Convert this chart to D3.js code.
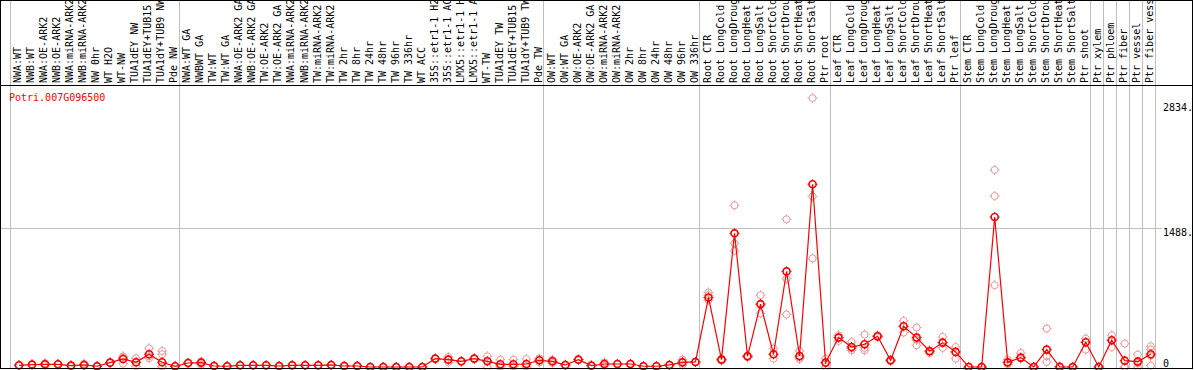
<!DOCTYPE html>
<html>
<head>
<meta charset="utf-8">
<script src="https://cdn.jsdelivr.net/npm/d3@7"></script>
<style>
body { margin: 0; background: #fff; }
text { font-family: "DejaVu Sans Mono", monospace; font-size: 10px; }
</style>
</head>
<body>
<div id="chart"></div>
<script>
var geneName = "Potri.007G096500";

var samples = [
	"NWA:WT", "NWB:WT", "NWA:OE-ARK2", "NWB:OE-ARK2", "NWA:miRNA-ARK2", "NWB:miRNA-ARK2", "NW 0hr", "WT H2O", "WT-NW", "TUA1dEY NW", "TUA1dEY+TUB15 NW", "TUA1dY+TUB9 NW", "Pde NW",
	"NWA:WT GA", "NWBWT GA", "TW:WT", "TW:WT GA", "NWA:OE-ARK2 GA", "NWB:OE-ARK2 GA", "TW:OE-ARK2", "TW:OE-ARK2 GA", "NWA:miRNA-ARK2", "NWB:miRNA-ARK2", "TW:miRNA-ARK2", "TW:miRNA-ARK2",
	"TW 2hr", "TW 8hr", "TW 24hr", "TW 48hr", "TW 96hr", "TW 336hr", "WT ACC", "35S::etr1-1 H2O", "35S::etr1-1 ACC", "LMX5::etr1-1 H2O", "LMX5::etr1-1 ACC", "WT-TW", "TUA1dEY TW", "TUA1dEY+TUB15 TW", "TUA1dY+TUB9 TW", "Pde TW",
	"OW:WT", "OW:WT GA", "OW:OE-ARK2", "OW:OE-ARK2 GA", "OW:miRNA-ARK2", "OW:miRNA-ARK2", "OW 2hr", "OW 8hr", "OW 24hr", "OW 48hr", "OW 96hr", "OW 336hr",
	"Root CTR", "Root LongCold", "Root LongDrought", "Root LongHeat", "Root LongSalt", "Root ShortCold", "Root ShortDrought", "Root ShortHeat", "Root ShortSalt", "Ptr root",
	"Leaf CTR", "Leaf LongCold", "Leaf LongDrought", "Leaf LongHeat", "Leaf LongSalt", "Leaf ShortCold", "Leaf ShortDrought", "Leaf ShortHeat", "Leaf ShortSalt", "Ptr leaf",
	"Stem CTR", "Stem LongCold", "Stem LongDrought", "Stem LongHeat", "Stem LongSalt", "Stem ShortCold", "Stem ShortDrought", "Stem ShortHeat", "Stem ShortSalt", "Ptr shoot",
	"Ptr xylem", "Ptr phloem", "Ptr fiber", "Ptr vessel", "Ptr fiber vessel"
];

var groupSizes = [13, 28, 12, 10, 10, 10, 1, 1, 1, 1, 1];

var means = [
	18, 26, 29, 29, 15, 22, 8, 47, 86, 51, 137, 51, 8,
	43, 47, 11, 8, 18, 18, 18, 11, 18, 18, 18, 22, 11, 11, 0, 0, 0, 0, 0, 90, 79, 61, 90, 61, 29, 29, 32, 72,
	61, 22, 79, 15, 32, 32, 32, 8, 8, 22, 50, 54,
	747, 79, 1436, 115, 675, 137, 1027, 118, 1963, 47,
	316, 215, 244, 330, 72, 438, 316, 169, 262, 162,
	0, 0, 1611, 50, 101, 0, 187, 0, 0, 266,
	0, 287, 68, 58, 137
];

var replicates = [
	[18, 18, 18], [26, 26, 26], [29, 40, 20], [29, 29, 29], [15, 15, 15], [22, 36, 15], [8, 8, 8], [47, 47, 47], [115, 36, 100], [94, 8, 51], [201, 115, 94], [172, 137, 8, 0], [8, 8, 8],
	[43, 43, 43], [47, 25, 60], [11, 11, 11], [8, 8, 8], [18, 18, 18], [18, 18, 18], [18, 18, 18], [11, 11, 11], [18, 18, 18], [18, 18, 18], [18, 18, 18], [22, 22, 22], [11, 11, 11], [11, 11, 11],
	[0, 0, 0], [0, 0, 0], [0, 0, 0], [0, 0, 0], [0, 0, 0], [90, 90, 90], [108, 79, 50], [61, 61, 61], [90, 90, 90], [115, 0, 68], [79, 0, 8], [79, 0, 8], [86, 0, 10], [94, 72, 50],
	[79, 61, 43], [22, 22, 22], [79, 79, 79], [15, 15, 15], [50, 32, 15], [32, 32, 32], [32, 32, 32], [8, 8, 8], [8, 8, 8], [22, 22, 22], [79, 50, 22], [54, 54, 54],
	[801, 772, 718], [90, 79, 68], [1737, 1328, 1249], [125, 115, 105], [772, 575, 675], [198, 90, 137], [1587, 947, 564], [172, 86, 100], [2889, 1834, 1167], [90, 0, 47],
	[341, 280, 316], [269, 180, 200], [348, 180, 205], [341, 330, 320], [72, 60, 80], [495, 370, 438], [424, 233, 290], [150, 169, 180], [323, 205, 262], [215, 90, 162],
	[0, 0, 0], [0, 0, 0], [2117, 1837, 879], [80, 30, 50], [151, 90, 101], [0, 0, 0], [413, 115, 54], [10, 0, 0], [0, 0, 0], [305, 187, 266],
	[0, 0, 0], [341, 215, 287], [251, 0, 0], [133, 0, 40], [223, 187, 15, 120]
];

var yTicks = [0, 1488, 2834];
var yTickLabels = ["0", "1488.", "2834."];

var width = 1194,
	height = 370,
	headerBottom = 85.5,
	plotRight = 1192.5,
	plotBottom = 368.5;

var svg = d3.select("#chart")
	.append("svg")
	.attr("width", width)
	.attr("height", height)

var x = d3.scaleBand()
	.domain(d3.range(samples.length))
	.range([10.5, 1155.3])

var px = function(i) { return x(i) + 8.5; }

var y = d3.scaleLinear()
	.domain([0, 2834])
	.range([367, 103.2])

// group separators
var bounds = [0];
groupSizes.forEach(function(s) { bounds.push(bounds[bounds.length - 1] + s); });

svg.append("g")
	.selectAll("line")
	.data(bounds)
	.enter()
	.append("line")
	.attr("x1", function(b) { return Math.floor(b < samples.length ? x(b) : x.range()[1]) + 0.5; })
	.attr("x2", function(b) { return Math.floor(b < samples.length ? x(b) : x.range()[1]) + 0.5; })
	.attr("y1", 0)
	.attr("y2", plotBottom)
	.style("stroke", "#c0c0c0")

// horizontal grid for the middle tick
svg.append("g")
	.selectAll("line")
	.data(yTicks.slice(1, -1))
	.enter()
	.append("line")
	.attr("x1", 0)
	.attr("x2", 1162)
	.attr("y1", function(d) { return Math.floor(y(d)) + 0.5; })
	.attr("y2", function(d) { return Math.floor(y(d)) + 0.5; })
	.style("stroke", "#c0c0c0")

// header labels
svg.append("clipPath")
	.attr("id", "headClip")
	.append("rect")
	.attr("x", 0).attr("y", 0)
	.attr("width", plotRight).attr("height", headerBottom)

svg.append("g")
	.attr("clip-path", "url(#headClip)")
	.selectAll("text")
	.data(samples)
	.enter()
	.append("text")
	.attr("transform", function(d, i) { return "translate(" + (x(i) + 10.8) + ",83) rotate(-90)"; })
	.style("text-anchor", "start")
	.style("fill", "#000")
	.text(function(d) { return d; })

svg.append("text")
	.attr("x", 9)
	.attr("y", 100.5)
	.style("fill", "#ff0000")
	.text(geneName)

// right axis labels
var yAxis = d3.axisRight(y)
	.tickValues(yTicks)
	.tickFormat(function(d, i) { return yTickLabels[i]; })
	.tickSize(0)
	.tickPadding(0)

var yLabel = svg.append("g")
	.attr("class", "yAxis")
	.attr("transform", "translate(1163,0)")
	.call(yAxis)

yLabel.select(".domain").remove();
yLabel.attr("font-family", null).attr("font-size", null);
yLabel.selectAll("text")
	.attr("x", 0)
	.attr("dy", null)
	.attr("y", function(d) { return Math.min(7.5, 366.5 - y(d)); })
	.style("fill", "#000")

function marker(g, color, sw) {
	g.append("circle")
		.attr("r", 3.5)
		.style("fill", "none")
		.style("stroke", color)
		.style("stroke-width", sw)
	g.append("path")
		.attr("d", "M0,-5V-3.5M0,3.5V5M-5,0H-3.5M3.5,0H5")
		.style("stroke", color)
		.style("stroke-width", 1)
}

// replicate points
var reps = [];
replicates.forEach(function(r, i) { r.forEach(function(v) { reps.push({i: i, v: v}); }); });

svg.append("g")
	.selectAll("g")
	.data(reps)
	.enter()
	.append("g")
	.attr("transform", function(d) { return "translate(" + px(d.i) + "," + y(d.v) + ")"; })
	.each(function() { marker(d3.select(this), "#ee9a9a", 1); })

// mean line
var meanLine = d3.line()
	.x(function(d, i) { return px(i); })
	.y(function(d) { return y(d); })

svg.append("path")
	.attr("d", meanLine(means))
	.style("fill", "none")
	.style("stroke", "#ff0000")
	.style("stroke-width", 1.2)

svg.append("g")
	.selectAll("g")
	.data(means)
	.enter()
	.append("g")
	.attr("transform", function(d, i) { return "translate(" + px(i) + "," + y(d) + ")"; })
	.each(function() { marker(d3.select(this), "#ff0000", 1.6); })

// frame
svg.append("line")
	.attr("x1", 0).attr("x2", plotRight)
	.attr("y1", headerBottom).attr("y2", headerBottom)
	.style("stroke", "#000")

svg.append("rect")
	.attr("x", 0.5).attr("y", 0.5)
	.attr("width", plotRight - 0.5).attr("height", plotBottom - 0.5)
	.style("fill", "none")
	.style("stroke", "#000")
</script>
</body>
</html>
